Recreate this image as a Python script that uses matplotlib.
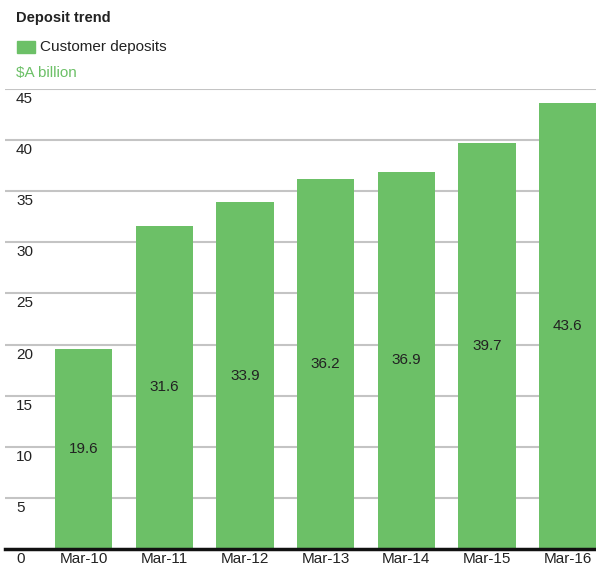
import matplotlib.pyplot as plt
import matplotlib.transforms as mtransforms
from matplotlib.patches import Rectangle

# data
years = ["Mar-10", "Mar-11", "Mar-12", "Mar-13", "Mar-14", "Mar-15", "Mar-16"]
deposits = [19.6, 31.6, 33.9, 36.2, 36.9, 39.7, 43.6]
y_ticks = [0, 5, 10, 15, 20, 25, 30, 35, 40, 45]

green = "#6cc067"
plt.rcParams['font.family'] = ['Liberation Sans', 'DejaVu Sans']

fig = plt.figure(figsize=(5.96, 5.66), dpi=100)
ax = fig.add_axes([5 / 596, 17 / 566, 591 / 596, 460 / 566])

x = range(len(years))
ax.bar(x, deposits, width=0.71, color=green, zorder=2)
for i, v in zip(x, deposits):
    ax.text(i, v / 2, f"{v:.1f}", ha="center", va="center", fontsize=11, color="#222222", zorder=3)

ax.set_xlim(-0.975, 6.35)
ax.set_ylim(0, 45)

# gridlines and custom y labels under each line
for t in y_ticks[1:]:
    ax.axhline(t, color="#c4c4c4", linewidth=1.5, zorder=1)
ax.axhline(0, color="#111111", linewidth=2.5, zorder=4, clip_on=False)
trans = mtransforms.blended_transform_factory(fig.transFigure, ax.transData)
trans = trans + mtransforms.ScaledTranslation(0, -10 / 100, fig.dpi_scale_trans)
for t in y_ticks:
    ax.text(16 / 596, t, str(t), transform=trans, ha="left", va="center",
            fontsize=11, color="#222222")

ax.set_xticks(list(x))
ax.set_xticklabels(years, fontsize=11, color="#222222")
ax.tick_params(axis="x", length=0, pad=2)
ax.set_yticks([])
for s in ax.spines.values():
    s.set_visible(False)

# header
fig.text(16 / 596, 1 - 18 / 566, "Deposit trend", fontsize=10.5, fontweight="bold",
         ha="left", va="center", color="#222222")
fig.patches.append(Rectangle((17 / 596, 1 - 53 / 566), 18 / 596, 12 / 566,
                             transform=fig.transFigure, color=green))
fig.text(40 / 596, 1 - 47 / 566, "Customer deposits", fontsize=11,
         ha="left", va="center", color="#222222")
fig.text(16 / 596, 1 - 73 / 566, r"\$A billion", fontsize=11,
         ha="left", va="center", color=green)

fig.savefig("out.png", dpi=100)
